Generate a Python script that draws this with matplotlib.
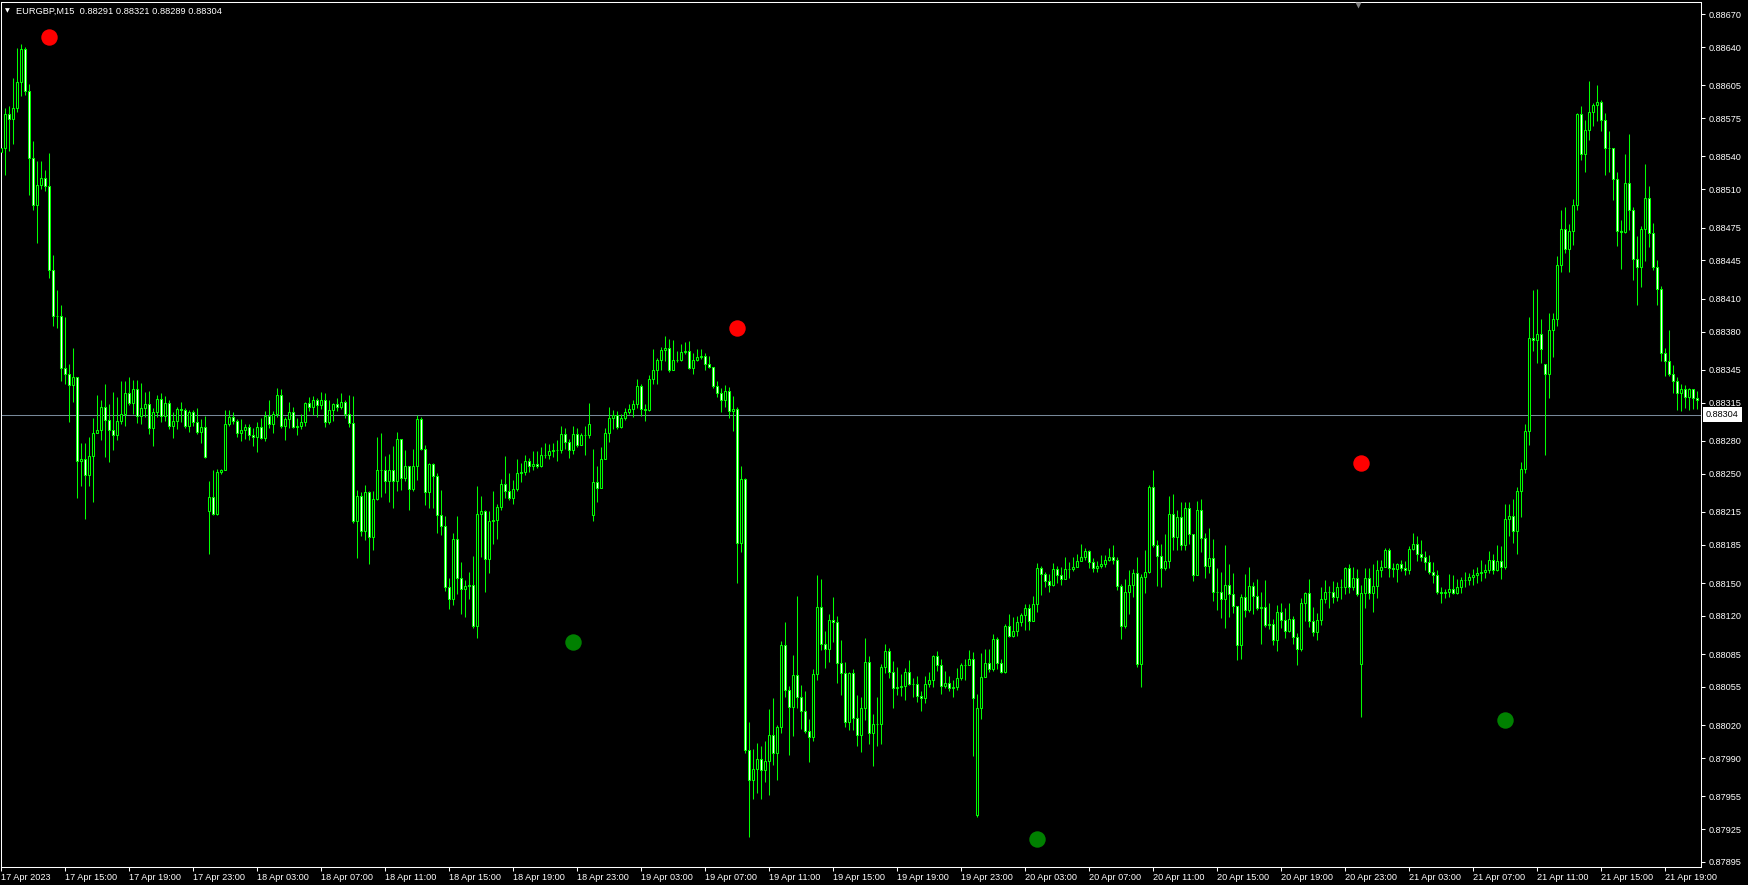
import numpy as np
import pandas as pd
import matplotlib
matplotlib.use("Agg")
import matplotlib.pyplot as plt
from matplotlib.transforms import blended_transform_factory, offset_copy

# ---------------- data (prices in units of 0.00001) ----------------
symbol_title = "EURGBP,M15  0.88291 0.88321 0.88289 0.88304"
start_time = "2023-04-17 11:00"
first_open = 88544
open_gaps = {52: 88216, 148: 88212, 244: 87938, 340: 88076, 386: 88350}

close_pts = [
 88548, 88579, 88574, 88584, 88608, 88638, 88600, 88539, 88496, 88514,
 88520, 88513, 88436, 88394, 88394, 88347, 88341, 88331, 88338, 88262,
 88263, 88249, 88266, 88287, 88290, 88311, 88299, 88290, 88285, 88298,
 88305, 88324, 88315, 88327, 88303, 88310, 88314, 88292, 88306, 88318,
 88303, 88315, 88294, 88298, 88309, 88308, 88294, 88306, 88297, 88288,
 88293, 88265, 88229, 88213, 88252, 88253, 88295, 88302, 88298, 88287,
 88290, 88293, 88285, 88284, 88293, 88283, 88303, 88295, 88305, 88322,
 88294, 88300, 88306, 88293, 88294, 88297, 88315, 88311, 88317, 88313,
 88317, 88297, 88308, 88314, 88311, 88316, 88305, 88296, 88207, 88230,
 88198, 88233, 88192, 88227, 88253, 88253, 88243, 88253, 88243, 88282,
 88246, 88257, 88236, 88257, 88300, 88273, 88233, 88259, 88248, 88212,
 88202, 88146, 88135, 88190, 88155, 88145, 88147, 88148, 88111, 88213,
 88216, 88172, 88207, 88208, 88220, 88241, 88234, 88228, 88236, 88251,
 88252, 88262, 88257, 88259, 88257, 88267, 88267, 88271, 88272, 88272,
 88286, 88279, 88272, 88286, 88276, 88285, 88285, 88295, 88242, 88237,
 88263, 88287, 88301, 88304, 88293, 88301, 88306, 88309, 88314, 88330,
 88309, 88308, 88337, 88345, 88354, 88363, 88365, 88345, 88354, 88354,
 88361, 88362, 88347, 88354, 88357, 88358, 88350, 88348, 88330, 88324,
 88317, 88326, 88307, 88309, 88187, 88245, 87997, 87970, 87980, 87989,
 87979, 87987, 88011, 87995, 88018, 88093, 88052, 88037, 88066, 88046,
 88033, 88015, 88009, 88067, 88128, 88094, 88090, 88116, 88114, 88077,
 88068, 88023, 88068, 88027, 88011, 88036, 88078, 88013, 88021, 88021,
 88073, 88088, 88069, 88054, 88055, 88056, 88069, 88058, 88058, 88047,
 88045, 88058, 88061, 88083, 88075, 88056, 88059, 88054, 88055, 88063,
 88075, 88075, 88081, 88045, 88036, 88064, 88077, 88071, 88099, 88077,
 88069, 88111, 88102, 88106, 88114, 88121, 88127, 88115, 88131, 88164,
 88158, 88152, 88148, 88163, 88157, 88154, 88163, 88163, 88165, 88170,
 88174, 88179, 88169, 88164, 88166, 88167, 88171, 88174, 88171, 88147,
 88111, 88142, 88148, 88159, 88076, 88156, 88160, 88238, 88185, 88175,
 88164, 88170, 88213, 88192, 88210, 88185, 88219, 88195, 88157, 88217,
 88191, 88166, 88173, 88142, 88142, 88135, 88148, 88140, 88129, 88093,
 88137, 88125, 88147, 88138, 88127, 88128, 88112, 88113, 88098, 88124,
 88116, 88106, 88117, 88101, 88090, 88132, 88141, 88115, 88105, 88116,
 88135, 88142, 88142, 88137, 88146, 88146, 88164, 88146, 88155, 88140,
 88141, 88155, 88141, 88147, 88162, 88165, 88180, 88164, 88163, 88167,
 88164, 88162, 88181, 88186, 88177, 88174, 88169, 88160, 88157, 88142,
 88141, 88142, 88145, 88141, 88146, 88153, 88153, 88156, 88157, 88159,
 88160, 88162, 88171, 88162, 88170, 88165, 88209, 88211, 88198, 88234,
 88254, 88289, 88374, 88372, 88378, 88364, 88341, 88381, 88391, 88441,
 88474, 88455, 88472, 88496, 88579, 88542, 88564, 88581, 88587, 88590,
 88573, 88548, 88548, 88519, 88472, 88471, 88516, 88491, 88446, 88439,
 88474, 88502, 88470, 88439, 88419, 88360, 88353, 88341, 88335, 88324,
 88327, 88320, 88327, 88319, 88317]

high_pts = [
 88565, 88584, 88586, 88612, 88639, 88643, 88640, 88606, 88554, 88536,
 88536, 88528, 88543, 88450, 88418, 88404, 88393, 88350, 88365, 88338,
 88278, 88278, 88284, 88301, 88322, 88317, 88332, 88314, 88325, 88320,
 88335, 88335, 88338, 88336, 88336, 88333, 88325, 88326, 88310, 88322,
 88324, 88321, 88317, 88306, 88311, 88316, 88310, 88308, 88308, 88310,
 88300, 88303, 88243, 88253, 88254, 88254, 88308, 88308, 88306, 88300,
 88300, 88295, 88295, 88292, 88297, 88301, 88307, 88317, 88307, 88328,
 88327, 88302, 88316, 88311, 88301, 88305, 88316, 88320, 88321, 88319,
 88325, 88324, 88317, 88315, 88319, 88324, 88317, 88322, 88321, 88235,
 88233, 88240, 88234, 88234, 88284, 88287, 88266, 88268, 88275, 88288,
 88282, 88272, 88256, 88273, 88304, 88302, 88276, 88260, 88260, 88251,
 88235, 88211, 88155, 88196, 88211, 88169, 88153, 88160, 88175, 88239,
 88230, 88217, 88216, 88234, 88222, 88245, 88266, 88251, 88244, 88263,
 88260, 88267, 88264, 88271, 88271, 88274, 88278, 88277, 88278, 88281,
 88294, 88292, 88282, 88294, 88292, 88287, 88294, 88315, 88273, 88257,
 88274, 88292, 88311, 88308, 88307, 88305, 88310, 88314, 88317, 88337,
 88332, 88314, 88340, 88364, 88356, 88366, 88376, 88373, 88372, 88362,
 88369, 88370, 88371, 88360, 88364, 88364, 88360, 88358, 88348, 88335,
 88328, 88331, 88329, 88321, 88311, 88257, 88246, 88023, 87998, 88004,
 88001, 88006, 88035, 88045, 88020, 88097, 88114, 88056, 88084, 88138,
 88057, 88051, 88026, 88071, 88157, 88154, 88106, 88122, 88137, 88120,
 88098, 88078, 88069, 88071, 88048, 88046, 88100, 88083, 88030, 88046,
 88076, 88094, 88091, 88079, 88073, 88067, 88072, 88080, 88063, 88065,
 88051, 88065, 88069, 88084, 88088, 88081, 88070, 88065, 88061, 88072,
 88077, 88081, 88089, 88087, 88049, 88086, 88090, 88090, 88103, 88101,
 88081, 88113, 88122, 88119, 88120, 88123, 88131, 88131, 88138, 88168,
 88166, 88160, 88158, 88168, 88166, 88165, 88174, 88169, 88174, 88177,
 88186, 88182, 88180, 88173, 88170, 88176, 88176, 88182, 88185, 88174,
 88149, 88154, 88162, 88163, 88174, 88158, 88180, 88240, 88253, 88189,
 88186, 88195, 88230, 88231, 88217, 88224, 88224, 88224, 88195, 88225,
 88227, 88196, 88200, 88190, 88164, 88160, 88185, 88167, 88159, 88129,
 88140, 88158, 88165, 88151, 88154, 88142, 88153, 88132, 88117, 88130,
 88132, 88127, 88132, 88120, 88104, 88136, 88142, 88154, 88128, 88123,
 88146, 88153, 88147, 88152, 88151, 88154, 88165, 88167, 88165, 88163,
 88148, 88164, 88164, 88167, 88171, 88171, 88182, 88182, 88168, 88168,
 88171, 88170, 88184, 88196, 88193, 88189, 88179, 88176, 88169, 88162,
 88146, 88145, 88158, 88157, 88154, 88156, 88160, 88159, 88163, 88165,
 88171, 88167, 88179, 88177, 88185, 88184, 88222, 88222, 88227, 88238,
 88261, 88295, 88393, 88418, 88419, 88391, 88350, 88397, 88397, 88449,
 88491, 88494, 88478, 88501, 88580, 88586, 88573, 88609, 88589, 88605,
 88592, 88580, 88563, 88548, 88526, 88482, 88542, 88561, 88494, 88467,
 88476, 88533, 88513, 88479, 88445, 88422, 88365, 88381, 88349, 88338,
 88332, 88331, 88328, 88327, 88326]

low_pts = [
 88520, 88523, 88545, 88551, 88581, 88595, 88596, 88505, 88491, 88461,
 88510, 88508, 88429, 88385, 88383, 88335, 88332, 88297, 88316, 88228,
 88239, 88209, 88239, 88224, 88287, 88281, 88265, 88261, 88272, 88281,
 88295, 88294, 88313, 88305, 88296, 88295, 88302, 88286, 88275, 88302,
 88297, 88298, 88291, 88283, 88291, 88297, 88292, 88288, 88294, 88286,
 88278, 88264, 88177, 88212, 88212, 88250, 88255, 88294, 88295, 88284,
 88280, 88282, 88281, 88275, 88270, 88282, 88280, 88292, 88287, 88302,
 88292, 88281, 88292, 88292, 88285, 88291, 88294, 88307, 88304, 88302,
 88309, 88293, 88295, 88298, 88307, 88309, 88301, 88293, 88205, 88173,
 88193, 88189, 88167, 88180, 88226, 88229, 88232, 88224, 88219, 88234,
 88235, 88243, 88217, 88234, 88244, 88272, 88221, 88219, 88219, 88196,
 88194, 88143, 88126, 88130, 88140, 88122, 88119, 88135, 88109, 88100,
 88174, 88142, 88159, 88186, 88190, 88217, 88228, 88226, 88222, 88234,
 88242, 88249, 88252, 88253, 88255, 88256, 88264, 88263, 88265, 88262,
 88269, 88273, 88264, 88268, 88274, 88276, 88267, 88283, 88207, 88224,
 88237, 88263, 88279, 88291, 88291, 88292, 88299, 88305, 88302, 88310,
 88303, 88298, 88307, 88332, 88332, 88345, 88353, 88343, 88345, 88352,
 88353, 88359, 88346, 88341, 88353, 88355, 88345, 88347, 88328, 88320,
 88306, 88311, 88301, 88289, 88150, 88178, 87995, 87918, 87953, 87958,
 87953, 87968, 87956, 87984, 87970, 88013, 88046, 87993, 88010, 88036,
 88017, 88013, 87986, 88006, 88061, 88089, 88072, 88078, 88096, 88059,
 88048, 88018, 88016, 88016, 88001, 87996, 88025, 88003, 87983, 88001,
 88003, 88068, 88063, 88036, 88048, 88047, 88043, 88057, 88046, 88041,
 88033, 88040, 88055, 88055, 88070, 88049, 88054, 88051, 88046, 88052,
 88061, 88061, 88075, 87992, 87936, 88026, 88065, 88069, 88070, 88071,
 88068, 88068, 88101, 88101, 88102, 88111, 88107, 88107, 88115, 88124,
 88139, 88146, 88142, 88147, 88150, 88148, 88154, 88155, 88161, 88165,
 88170, 88171, 88164, 88160, 88160, 88164, 88165, 88170, 88167, 88144,
 88099, 88109, 88122, 88137, 88073, 88055, 88141, 88159, 88183, 88147,
 88146, 88162, 88164, 88180, 88180, 88180, 88180, 88186, 88152, 88157,
 88178, 88155, 88159, 88134, 88125, 88118, 88109, 88119, 88123, 88080,
 88081, 88119, 88124, 88122, 88125, 88094, 88110, 88108, 88093, 88088,
 88109, 88100, 88105, 88094, 88075, 88088, 88115, 88110, 88102, 88098,
 88112, 88132, 88127, 88132, 88134, 88135, 88140, 88141, 88144, 88138,
 88028, 88127, 88135, 88124, 88136, 88156, 88165, 88156, 88156, 88151,
 88161, 88157, 88158, 88180, 88170, 88170, 88162, 88158, 88150, 88140,
 88132, 88136, 88137, 88140, 88140, 88141, 88146, 88148, 88148, 88150,
 88152, 88155, 88159, 88158, 88161, 88154, 88163, 88193, 88187, 88177,
 88210, 88251, 88276, 88362, 88351, 88351, 88267, 88319, 88357, 88385,
 88434, 88452, 88434, 88459, 88491, 88537, 88526, 88555, 88568, 88572,
 88563, 88523, 88526, 88500, 88458, 88437, 88470, 88473, 88427, 88404,
 88421, 88444, 88457, 88436, 88404, 88353, 88339, 88339, 88324, 88308,
 88307, 88310, 88308, 88309, 88309]

bid_price = 0.88304
price_ticks = [0.88670, 0.88640, 0.88605, 0.88575, 0.88540, 0.88510, 0.88475,
               0.88445, 0.88410, 0.88380, 0.88345, 0.88315, 0.88280, 0.88250,
               0.88215, 0.88185, 0.88150, 0.88120, 0.88085, 0.88055, 0.88020,
               0.87990, 0.87955, 0.87925, 0.87895]
time_labels = ["17 Apr 2023", "17 Apr 15:00", "17 Apr 19:00", "17 Apr 23:00",
               "18 Apr 03:00", "18 Apr 07:00", "18 Apr 11:00", "18 Apr 15:00",
               "18 Apr 19:00", "18 Apr 23:00", "19 Apr 03:00", "19 Apr 07:00",
               "19 Apr 11:00", "19 Apr 15:00", "19 Apr 19:00", "19 Apr 23:00",
               "20 Apr 03:00", "20 Apr 07:00", "20 Apr 11:00", "20 Apr 15:00",
               "20 Apr 19:00", "20 Apr 23:00", "21 Apr 03:00", "21 Apr 07:00",
               "21 Apr 11:00", "21 Apr 15:00", "21 Apr 19:00"]
sell_bars = [12, 184, 340]
sell_prices = [0.88649, 0.88383, 0.88260]
buy_bars = [143, 259, 376]
buy_prices = [0.88096, 0.87916, 0.88025]
shift_marker_bar = 339.2

# ---------------- build OHLC ----------------
C = np.array(close_pts, dtype=float)
n = len(C)
O = np.empty(n)
O[0] = first_open
O[1:] = C[:-1]
for k, v in open_gaps.items():
    O[k] = v
H = np.maximum.reduce([np.array(high_pts, float), O, C])
L = np.minimum.reduce([np.array(low_pts, float), O, C])
O, H, L, C = O / 1e5, H / 1e5, L / 1e5, C / 1e5
xs = np.arange(n)

times = pd.date_range(start_time, periods=n, freq="15min")
label_pos = []
for lab in time_labels:
    if lab.endswith("2023"):
        label_pos.append(0)
    else:
        t = pd.to_datetime("2023 " + lab, format="%Y %d %b %H:%M")
        label_pos.append(int((t - times[0]) / pd.Timedelta("15min")))

# ---------------- figure ----------------
W, Hpx = 1748, 885
FONT = "Liberation Sans"
LIME = "#00ff00"
fig = plt.figure(figsize=(W / 100, Hpx / 100), dpi=100, facecolor="black")
ax_left, ax_right, ax_top, ax_bot = 0.5, 1700.5, 2.3, 866.7
ax = fig.add_axes([ax_left / W, 1 - ax_bot / Hpx, (ax_right - ax_left) / W,
                   (ax_bot - ax_top) / Hpx])
ax.set_facecolor("black")
px_per_bar = 4.0
x0 = -(1.4 - ax_left) / px_per_bar
ax.set_xlim(x0, x0 + (ax_right - ax_left) / px_per_bar)
pts_per_px = 0.0001 / 10.938
y_top = 0.88670 + (14.3 - ax_top) * pts_per_px * 1.0
y_bot = 0.88670 - (ax_bot - 14.3) * pts_per_px
ax.set_ylim(y_bot, y_top)

for s in ax.spines.values():
    s.set_color("white")
    s.set_linewidth(0.75)

ax.axhline(bid_price, color="#778899", lw=0.75, zorder=1)

ax.vlines(xs, L, H, colors=LIME, lw=0.75, zorder=2)
bull = C >= O
body_bot = np.minimum(O, C)
body_h = np.maximum(np.abs(C - O), 1e-7)
ax.bar(xs[bull], body_h[bull], bottom=body_bot[bull], width=0.5,
       color="black", edgecolor=LIME, linewidth=0.75, zorder=3)
ax.bar(xs[~bull], body_h[~bull], bottom=body_bot[~bull], width=0.5,
       color="white", edgecolor=LIME, linewidth=0.75, zorder=3)

ax.scatter(sell_bars, sell_prices, s=140, color="#ff0000", zorder=5, linewidths=0)
ax.scatter(buy_bars, buy_prices, s=140, color="#008000", zorder=5, linewidths=0)

# chart shift marker at top
btr = blended_transform_factory(ax.transData, ax.transAxes)
ax.plot([shift_marker_bar], [0.997], marker="v", ms=5, color="#808080",
        transform=btr, clip_on=False, zorder=6, mec="none")

# x axis
ax.set_xticks(label_pos)
ax.set_xticklabels(time_labels, ha="left", fontsize=6.6, family=FONT, color="white")
ax.tick_params(axis="x", direction="out", length=3, width=0.75, color="white", pad=1.5)

# y axis on the right
ax.yaxis.tick_right()
ax.set_yticks(price_ticks)
ax.set_yticklabels([f"{p:.5f}" for p in price_ticks], fontsize=6.6, family=FONT,
                   color="white")
ax.tick_params(axis="y", direction="out", length=3, width=0.75, color="white", pad=3)

# bid price label
tr = offset_copy(blended_transform_factory(ax.transAxes, ax.transData), fig=fig,
                 x=5.5, y=0, units="dots")
ax.text(1.0, bid_price, f"{bid_price:.5f}", transform=tr, ha="left", va="center",
        fontsize=6.6, family=FONT, color="black", zorder=10,
        bbox=dict(boxstyle="square,pad=0.35", fc="white", ec="none"))

# header
fig.text(16 / W, 1 - 11 / Hpx, symbol_title, ha="left", va="center",
         fontsize=6.65, family=FONT, color="white")
fig.text(7.5 / W, 1 - 11 / Hpx, "\u25bc", ha="center", va="center",
         fontsize=4.5, family="DejaVu Sans", color="white")

fig.savefig("out.png", dpi=100, facecolor="black")
